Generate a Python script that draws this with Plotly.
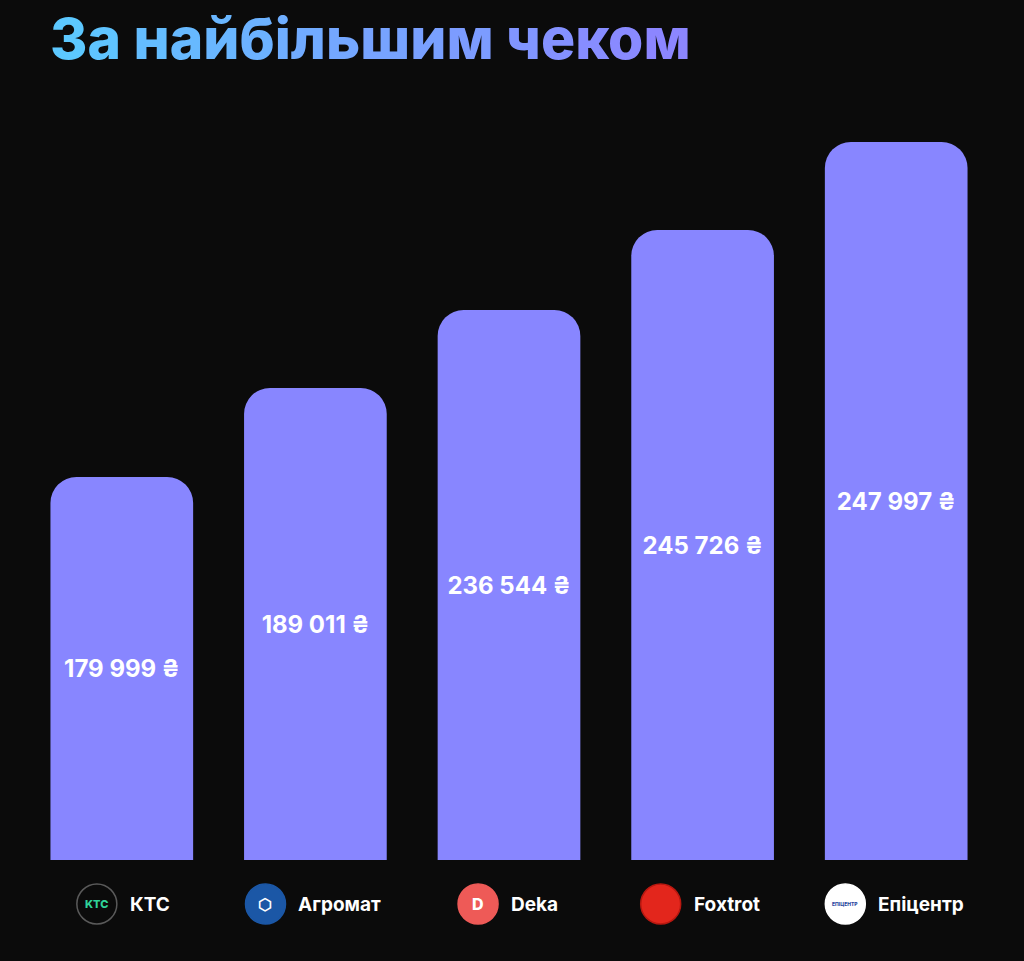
import plotly.graph_objects as go

# data
stores = ['КТС', 'Агромат', 'Deka', 'Foxtrot', 'Епіцентр']
max_check = [179999, 189011, 236544, 245726, 247997]
# bar heights as drawn in the picture (not proportional to the values)
bar_heights = [383, 472, 550, 630, 718]

logo_fill = ['#0b0b0b', '#1b57a6', '#ee5a57', '#e3261c', '#ffffff']
logo_line = ['#5a5a5a', '#1b57a6', '#ee5a57', '#b81810', '#ffffff']
logo_mark = ['KTC', '⬡', 'D', '', 'ЕПІЦЕНТР']
logo_mark_color = ['#2fd39a', '#ffffff', '#ffffff', '#ffffff', '#2b4aa0']
logo_mark_size = [11, 16, 16, 10, 5]
group_shift = [-25, -50, -31, -42, -51]

BG = '#0b0b0b'
BAR = '#8886ff'
FONT = 'Inter'


def fmt(v):
    return f'{v:,}'.replace(',', ' ') + ' ₴'


x = list(range(len(stores)))
LOGO_Y = -44

fig = go.Figure()
fig.add_trace(go.Bar(
    x=x, y=bar_heights,
    marker=dict(color=BAR, cornerradius=26, line_width=0),
    text=[fmt(v) for v in max_check],
    textposition='inside', insidetextanchor='middle',
    textfont=dict(family=FONT, size=24, color='#ffffff', weight=700),
    hoverinfo='skip',
))

# logo circles under each bar, shifted left of the bar centre
fig.add_trace(go.Scatter(
    x=[i + s / 194 for i, s in zip(x, group_shift)], y=[LOGO_Y] * len(x),
    mode='markers',
    marker=dict(size=40, color=logo_fill, line=dict(color=logo_line, width=1.5)),
    hoverinfo='skip',
))

for i, name in enumerate(stores):
    fig.add_annotation(x=i, y=LOGO_Y, xref='x', yref='y', text=logo_mark[i],
                       showarrow=False, xshift=group_shift[i],
                       font=dict(family=FONT, size=logo_mark_size[i],
                                 color=logo_mark_color[i], weight=800))
    fig.add_annotation(x=i, y=LOGO_Y, xref='x', yref='y', text=name,
                       showarrow=False, xanchor='left',
                       xshift=group_shift[i] + 31,
                       font=dict(family=FONT, size=19, color='#ffffff', weight=700))


# title with a blue-to-violet gradient, one span per letter
def grad(s, c0=(92, 200, 255), c1=(140, 134, 255)):
    out = []
    n = len(s) - 1
    for k, ch in enumerate(s):
        t = k / n
        c = tuple(round(a + (b - a) * t) for a, b in zip(c0, c1))
        out.append(f"<span style='color:rgb{c}'>{ch}</span>")
    return ''.join(out)


fig.add_annotation(xref='paper', yref='paper', x=0, y=1, xshift=23, yshift=25,
                   xanchor='left', yanchor='bottom', showarrow=False,
                   text=grad('За найбільшим чеком'),
                   font=dict(family=FONT, size=57, weight=800))

fig.update_layout(
    width=1024, height=961,
    paper_bgcolor=BG, plot_bgcolor=BG,
    margin=dict(l=25, r=31, t=100, b=0),
    bargap=0.263, showlegend=False,
    xaxis=dict(range=[-0.5, 4.5], showticklabels=False, showgrid=False,
               zeroline=False, fixedrange=True),
    yaxis=dict(range=[-101, 760], showticklabels=False, showgrid=False,
               zeroline=False, fixedrange=True),
)

fig.write_html("out.html", config={'displayModeBar': False},
               post_script="document.body.style.margin='0';"
                           "document.body.style.background='#0b0b0b';"
                           "document.body.style.overflow='hidden';")
